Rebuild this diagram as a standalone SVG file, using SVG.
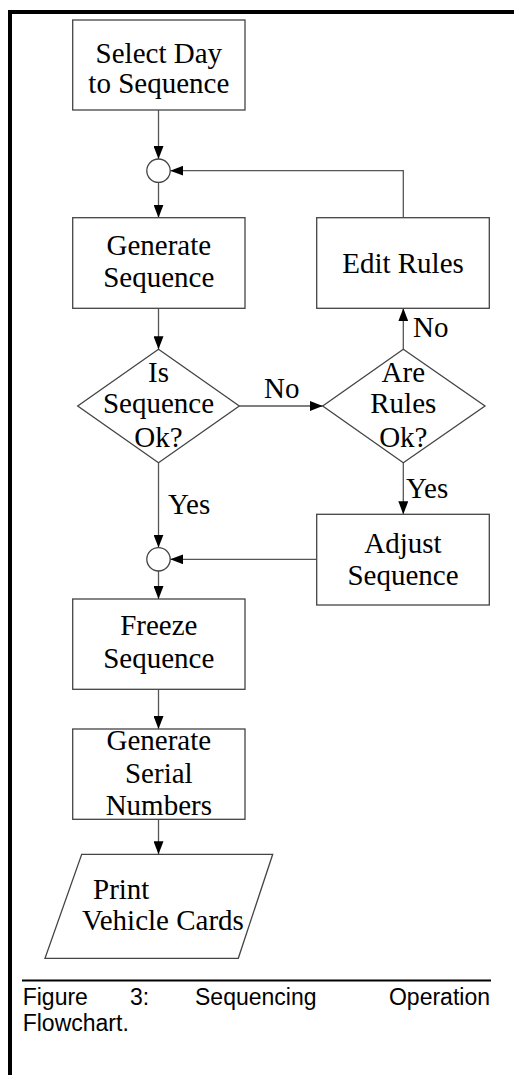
<svg xmlns="http://www.w3.org/2000/svg" width="514" height="1075" viewBox="0 0 514 1075">
<defs>
<style>
.box{fill:#fff;stroke:#444;stroke-width:1.3}
.ln{fill:none;stroke:#555;stroke-width:1.3}
.t{font-family:"Liberation Serif","Times New Roman",serif;font-size:29px;fill:#000;text-anchor:middle}
.lbl{font-family:"Liberation Serif","Times New Roman",serif;font-size:29px;fill:#000}
.cap{font-family:"Liberation Sans",Arial,sans-serif;font-size:23px;fill:#000}
</style>
<marker id="ah" markerWidth="13" markerHeight="10" refX="13" refY="5" orient="auto" markerUnits="userSpaceOnUse">
<path d="M0,0 L13,5 L0,10 z" fill="#000"/>
</marker>
</defs>
<rect width="514" height="1075" fill="#fff"/>
<g id="frame">
<line x1="8" y1="12" x2="514" y2="12" stroke="#000" stroke-width="4"/>
<line x1="10" y1="10" x2="10" y2="1075" stroke="#000" stroke-width="4"/>
</g>
<g id="connectors">
<line class="ln" x1="158.5" y1="110" x2="158.5" y2="159" marker-end="url(#ah)"/>
<line class="ln" x1="158.5" y1="182.5" x2="158.5" y2="217.7" marker-end="url(#ah)"/>
<line class="ln" x1="158.5" y1="308.3" x2="158.5" y2="349.3" marker-end="url(#ah)"/>
<line class="ln" x1="239.3" y1="406" x2="322.7" y2="406" marker-end="url(#ah)"/>
<line class="ln" x1="403.3" y1="349.3" x2="403.3" y2="308.3" marker-end="url(#ah)"/>
<polyline class="ln" points="403.3,217.7 403.3,170.7 170.2,170.7" marker-end="url(#ah)"/>
<line class="ln" x1="158.5" y1="462.7" x2="158.5" y2="547.6" marker-end="url(#ah)"/>
<line class="ln" x1="403.3" y1="462.7" x2="403.3" y2="514.3" marker-end="url(#ah)"/>
<line class="ln" x1="316.7" y1="559.3" x2="170.2" y2="559.3" marker-end="url(#ah)"/>
<line class="ln" x1="158.5" y1="571" x2="158.5" y2="599" marker-end="url(#ah)"/>
<line class="ln" x1="158.5" y1="689.3" x2="158.5" y2="729" marker-end="url(#ah)"/>
<line class="ln" x1="158.5" y1="819.3" x2="158.5" y2="854.3" marker-end="url(#ah)"/>
<text class="lbl" x="264" y="398">No</text>
<text class="lbl" x="413" y="337">No</text>
<text class="lbl" x="168" y="514">Yes</text>
<text class="lbl" x="406" y="498">Yes</text>
</g>
<g id="select-day">
<rect class="box" x="72.7" y="20" width="172.3" height="90"/>
<text class="t" x="158.8" y="63">Select Day</text>
<text class="t" x="158.8" y="93">to Sequence</text>
</g>
<g id="junction1">
<circle class="box" cx="158.5" cy="170.7" r="11.7"/>
</g>
<g id="generate-sequence">
<rect class="box" x="72.7" y="217.7" width="172.3" height="90.6"/>
<text class="t" x="158.8" y="255">Generate</text>
<text class="t" x="158.8" y="287">Sequence</text>
</g>
<g id="edit-rules">
<rect class="box" x="316.7" y="217.7" width="172.6" height="90.6"/>
<text class="t" x="403" y="273">Edit Rules</text>
</g>
<g id="is-sequence-ok">
<polygon class="box" points="158.5,349.3 239.3,406 158.5,462.7 77.7,406"/>
<text class="t" x="158.5" y="382">Is</text>
<text class="t" x="158.5" y="413">Sequence</text>
<text class="t" x="158.5" y="447">Ok?</text>
</g>
<g id="are-rules-ok">
<polygon class="box" points="403.3,349.3 485,406 403.3,462.7 322.7,406"/>
<text class="t" x="403.3" y="382">Are</text>
<text class="t" x="403.3" y="413">Rules</text>
<text class="t" x="403.3" y="447">Ok?</text>
</g>
<g id="adjust-sequence">
<rect class="box" x="316.7" y="514.3" width="172.6" height="90.7"/>
<text class="t" x="403" y="553">Adjust</text>
<text class="t" x="403" y="585">Sequence</text>
</g>
<g id="junction2">
<circle class="box" cx="158.5" cy="559.3" r="11.7"/>
</g>
<g id="freeze-sequence">
<rect class="box" x="72.7" y="599" width="172.3" height="90.3"/>
<text class="t" x="158.8" y="635">Freeze</text>
<text class="t" x="158.8" y="668">Sequence</text>
</g>
<g id="generate-serial">
<rect class="box" x="72.7" y="729" width="172.3" height="90.3"/>
<text class="t" x="158.8" y="750">Generate</text>
<text class="t" x="158.8" y="783">Serial</text>
<text class="t" x="158.8" y="815">Numbers</text>
</g>
<g id="print-cards">
<polygon class="box" points="81.7,854.3 272.7,854.3 238.3,958.3 45,958.3"/>
<text class="lbl" x="93" y="899">Print</text>
<text class="lbl" x="82" y="930">Vehicle Cards</text>
</g>
<g id="caption">
<line x1="22" y1="980.5" x2="491" y2="980.5" stroke="#000" stroke-width="2"/>
<text class="cap" x="22.7" y="1005">Figure</text>
<text class="cap" x="130" y="1005">3:</text>
<text class="cap" x="195" y="1005">Sequencing</text>
<text class="cap" x="490" y="1005" text-anchor="end">Operation</text>
<text class="cap" x="22.7" y="1031">Flowchart.</text>
</g>
</svg>
